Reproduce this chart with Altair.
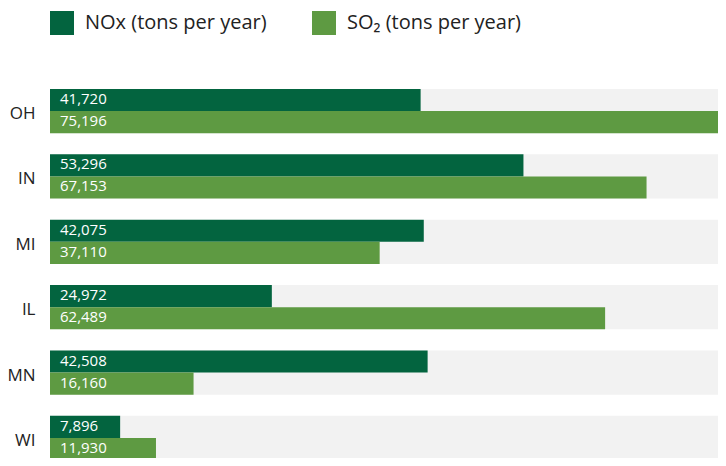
import altair as alt
import pandas as pd

states = ["OH", "IN", "MI", "IL", "MN", "WI"]
nox = [41720, 53296, 42075, 24972, 42508, 7896]
so2 = [75196, 67153, 37110, 62489, 16160, 11930]
series = ["NOx (tons per year)", "SO₂ (tons per year)"]
colors = ["#03643F", "#5E9A42"]

rows = []
for s, a, b in zip(states, nox, so2):
    rows.append({"state": s, "series": series[0], "value": a})
    rows.append({"state": s, "series": series[1], "value": b})
df = pd.DataFrame(rows)
bg = pd.DataFrame({"state": states})

XMAX = max(so2 + nox)
FONT = "Open Sans"

W = 668
H = 369

xscale = alt.Scale(domain=[0, XMAX], nice=False, zero=True)
yscale = alt.Scale(domain=states, paddingInner=0.325, paddingOuter=0, range=[0, 371])
yaxis = alt.Axis(title=None, ticks=False, domain=False, labelPadding=15,
                 labelOffset=3, labelFontSize=17, labelColor="#222222",
                 labelFont=FONT, grid=False)
yoff = alt.Scale(paddingInner=0, paddingOuter=0)

band = alt.Chart(bg).mark_bar(color="#F2F2F2").encode(
    y=alt.Y("state:N", scale=yscale, axis=yaxis),
    x=alt.datum(0, scale=xscale, axis=None),
    x2=alt.datum(XMAX),
)

bars = alt.Chart(df).mark_bar().encode(
    y=alt.Y("state:N", scale=yscale, axis=yaxis),
    yOffset=alt.YOffset("series:N", sort=series, scale=yoff),
    x=alt.X("value:Q", scale=xscale, axis=None),
    color=alt.Color("series:N", sort=series,
                    scale=alt.Scale(domain=series, range=colors),
                    legend=alt.Legend(orient="none", legendX=0, legendY=-78,
                                      direction="horizontal", title=None,
                                      symbolType="square", symbolSize=576,
                                      symbolStrokeWidth=0, symbolOpacity=1,
                                      labelFontSize=20, labelFont=FONT,
                                      labelColor="#222222", labelOffset=11,
                                      labelLimit=400, columnPadding=45)),
)

labels = alt.Chart(df).mark_text(align="left", baseline="middle", dx=10, dy=-1,
                                 color="white", fontSize=15, font=FONT).encode(
    y=alt.Y("state:N", scale=yscale, axis=yaxis),
    yOffset=alt.YOffset("series:N", sort=series, scale=yoff),
    x=alt.datum(0),
    text=alt.Text("value:Q", format=","),
)

chart = alt.layer(band, bars, labels).properties(
    width=W, height=H,
    autosize=alt.AutoSizeParams(type="none"),
    padding={"left": 42, "top": 81, "right": 0, "bottom": 0},
).configure_view(stroke=None)

chart.save("out.html", embed_options={"renderer": "svg", "actions": False})
